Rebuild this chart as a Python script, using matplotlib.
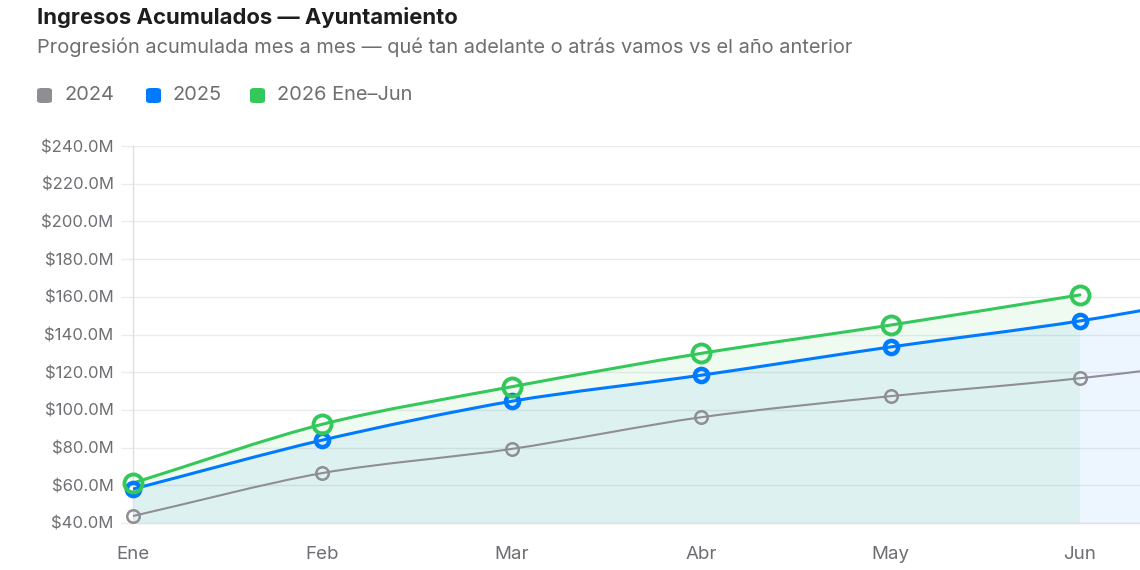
import numpy as np
import matplotlib
matplotlib.use("Agg")
import matplotlib.pyplot as plt
from matplotlib.path import Path
from matplotlib.patches import PathPatch, FancyBboxPatch

plt.rcParams['font.family'] = ['Inter', 'DejaVu Sans']

# datos (millones)
meses = ["Ene", "Feb", "Mar", "Abr", "May", "Jun", "Jul"]
v2024 = [43.7, 66.5, 79.3, 96.1, 107.3, 116.8, 129.0]
v2025 = [58.0, 84.0, 104.6, 118.4, 133.4, 147.2, 165.0]
v2026 = [61.2, 92.4, 112.3, 130.0, 145.0, 161.0]

y_ticks = [40, 60, 80, 100, 120, 140, 160, 180, 200, 220, 240]

C_GRAY = "#8e8e93"
C_BLUE = "#007aff"
C_GREEN = "#34c759"
TXT = "#6e6e73"

fig = plt.figure(figsize=(11.4, 5.7), dpi=100)
ax = fig.add_axes([133 / 1140, 1 - 523 / 570, 1 - 133 / 1140, (523 - 146) / 570])
ax.set_xlim(0, 5 + 60 / 189.4)
ax.set_ylim(40, 240)

# escala px por unidad para la suavización tipo chart.js
sx, sy = 189.4, 377 / 200.0
TENSION = 0.3


def smooth_path(vals, base=None):
    n = len(vals)
    pts = [np.array([i * sx, v * sy]) for i, v in enumerate(vals)]
    cps = []
    for i in range(n):
        p0 = pts[i - 1] if i > 0 else pts[i]
        p1 = pts[i]
        p2 = pts[i + 1] if i < n - 1 else pts[i]
        d01 = np.hypot(*(p1 - p0))
        d12 = np.hypot(*(p2 - p1))
        tot = d01 + d12
        s01 = d01 / tot if tot else 0
        s12 = d12 / tot if tot else 0
        cps.append((p1 - TENSION * s01 * (p2 - p0), p1 + TENSION * s12 * (p2 - p0)))
    verts = [pts[0]]
    codes = [Path.MOVETO]
    for i in range(n - 1):
        verts += [cps[i][1], cps[i + 1][0], pts[i + 1]]
        codes += [Path.CURVE4] * 3
    verts = [(x / sx, y / sy) for x, y in verts]
    if base is not None:
        verts += [((n - 1), base), (0, base), (0, base)]
        codes += [Path.LINETO, Path.LINETO, Path.CLOSEPOLY]
    return Path(verts, codes)


# rellenos al origen
ax.add_patch(PathPatch(smooth_path(v2025, 0), facecolor=C_BLUE, alpha=0.07, lw=0, zorder=1))
ax.add_patch(PathPatch(smooth_path(v2026, 0), facecolor=C_GREEN, alpha=0.08, lw=0, zorder=1))

series = [
    (v2024, C_GRAY, 1.5, 9, 1.8),
    (v2025, C_BLUE, 2.2, 9.5, 3.2),
    (v2026, C_GREEN, 2.2, 13, 2.8),
]
for vals, col, lw, ms, mew in series:
    ax.add_patch(PathPatch(smooth_path(vals), facecolor="none", edgecolor=col, lw=lw,
                           capstyle="round", joinstyle="round", zorder=3))
    ax.plot(range(len(vals)), vals, ls="none", marker="o", ms=ms, mfc="none",
            mec=col, mew=mew, zorder=4, clip_on=False)

ax.set_yticks(y_ticks)
ax.set_yticklabels([f"${v:.1f}M" for v in y_ticks])
ax.set_xticks(range(6))
ax.set_xticklabels(meses[:6])
ax.grid(axis="y", color="#ebebed", lw=1)
ax.set_axisbelow(True)
ax.tick_params(axis="y", length=9, color="#ebebed", width=1, pad=5, labelsize=12, labelcolor=TXT)
ax.tick_params(axis="x", length=0, pad=16.5, labelsize=13.5, labelcolor=TXT)
for s in ["top", "right"]:
    ax.spines[s].set_visible(False)
for s in ["left", "bottom"]:
    ax.spines[s].set_color("#e0e0e3")
    ax.spines[s].set_linewidth(1)

# títulos
fig.text(37 / 1140, 1 - 17 / 570, "Ingresos Acumulados — Ayuntamiento", fontsize=15.9,
         fontweight="bold", color="#1d1d1f", va="center", ha="left")
fig.text(37 / 1140, 1 - 47 / 570,
         "Progresión acumulada mes a mes — qué tan adelante o atrás vamos vs el año anterior",
         fontsize=14.4, color=TXT, va="center", ha="left")

# leyenda
leg = [("2024", C_GRAY, 37), ("2025", C_BLUE, 146), ("2026 Ene–Jun", C_GREEN, 250)]
for lab, col, x0 in leg:
    fig.patches.append(FancyBboxPatch((x0 / 1140, 1 - 103 / 570), 15 / 1140, 15 / 570,
                                      boxstyle="round,pad=0,rounding_size=0.004",
                                      transform=fig.transFigure, facecolor=col, lw=0))
    fig.text((x0 + 27) / 1140, 1 - 95 / 570, lab, fontsize=14.4, color=TXT, va="center", ha="left")

fig.savefig("out.png", dpi=100)
